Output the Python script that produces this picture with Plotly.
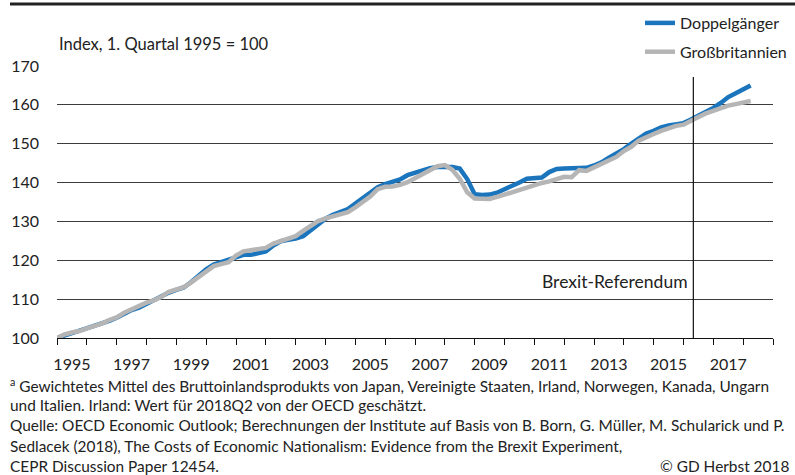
import plotly.graph_objects as go

# Quarterly data, 1995Q1 .. 2018Q2
years = [1995 + i / 4 for i in range(94)]

doppelgaenger = [
    100.0, 100.6, 101.2, 101.7,
    102.3, 102.9, 103.6, 104.4,
    105.2, 106.3, 107.2, 107.8,
    108.8, 109.5, 110.5, 111.7,
    112.4, 113.0, 114.4, 116.0,
    117.7, 118.9, 119.6, 120.2,
    120.7, 121.4, 121.4, 121.8,
    122.3, 123.8, 124.9, 125.3,
    125.6, 126.2, 127.6, 129.3,
    130.7, 131.7, 132.4, 133.2,
    134.6, 136.0, 137.4, 138.8,
    139.6, 140.1, 140.8, 141.9,
    142.6, 143.1, 143.7, 144.0,
    144.1, 144.0, 143.6, 140.9,
    137.0, 136.8, 136.9, 137.4,
    138.3, 139.0, 140.0, 141.0,
    141.1, 141.3, 142.7, 143.5,
    143.6, 143.6, 143.6, 143.8,
    144.4, 145.2, 146.4, 147.4,
    148.6, 150.0, 151.4, 152.6,
    153.3, 154.2, 154.7, 155.0,
    155.3, 156.2, 157.2, 158.0,
    159.2, 160.5, 162.0, 163.0,
    164.0, 165.0,
]

grossbritannien = [
    100.0, 100.9, 101.4, 101.8,
    102.5, 103.0, 103.7, 104.6,
    105.3, 106.5, 107.4, 108.0,
    109.1, 109.7, 110.6, 111.9,
    112.5, 113.1, 114.3, 115.8,
    117.3, 118.5, 119.0, 119.5,
    121.2, 122.3, 122.6, 122.9,
    123.2, 124.3, 125.0, 125.6,
    126.2, 127.6, 129.0, 130.1,
    130.8, 131.4, 131.8, 132.4,
    133.6, 135.0, 136.4, 138.3,
    138.9, 139.0, 139.4, 140.1,
    141.2, 142.3, 143.4, 144.2,
    144.5, 143.3, 141.0, 137.5,
    135.9, 135.8, 135.8, 136.3,
    136.9, 137.8, 138.3, 138.7,
    139.6, 139.9, 140.3, 141.0,
    141.5, 141.4, 143.2, 143.0,
    143.9, 144.6, 145.6, 146.6,
    148.1, 149.2, 150.8, 151.8,
    152.5, 153.3, 154.1, 154.6,
    154.9, 156.0, 156.9, 157.8,
    158.5, 159.2, 159.8, 160.2,
    160.6, 161.0,
]

label_years = list(range(1995, 2019, 2))
tick_text = [str(y) for y in label_years]
label_pos = [y + 0.5 for y in label_years]
boundary_years = list(range(1995, 2020))
y_ticks = [100, 110, 120, 130, 140, 150, 160, 170]

brexit_x = 2016.33
brexit_label = "Brexit-Referendum"
title_text = "Index, 1. Quartal 1995 = 100"
footnotes = [
    "<sup>a</sup> Gewichtetes Mittel des Bruttoinlandsprodukts von Japan, Vereinigte Staaten, Irland, Norwegen, Kanada, Ungarn",
    "und Italien. Irland: Wert für 2018Q2 von der OECD geschätzt.",
    "Quelle: OECD Economic Outlook; Berechnungen der Institute auf Basis von B. Born, G. Müller, M. Schularick und P.",
    "Sedlacek (2018), The Costs of Economic Nationalism: Evidence from the Brexit Experiment,",
    "CEPR Discussion Paper 12454.",
]
copyright_text = "© GD Herbst 2018"

FONT = "Lato"
TXT = "#222222"

fig = go.Figure()
fig.add_trace(go.Scatter(x=years, y=doppelgaenger, mode="lines", name="Doppelgänger",
                         legendgroup="a", line=dict(color="#1b75bc", width=4.5)))
fig.add_trace(go.Scatter(x=years, y=grossbritannien, mode="lines", name="Großbritannien",
                         legendgroup="b", line=dict(color="#b5b5b5", width=4.5)))

W, H = 795, 475
L, R, T, B = 57, 22, 66, 137
plot_w = W - L - R
plot_h = H - T - B

def px_to_paper_x(px):
    return (px - L) / plot_w

def px_to_paper_y(py):
    return (H - B - py) / plot_h

fig.update_layout(
    width=W, height=H,
    margin=dict(l=L, r=R, t=T, b=B, autoexpand=False),
    paper_bgcolor="white", plot_bgcolor="white",
    font=dict(family=FONT, size=16, color=TXT),
    showlegend=True,
    legend=dict(x=px_to_paper_x(640), y=px_to_paper_y(6),
                xanchor="left", yanchor="top", font=dict(size=16, color=TXT),
                bgcolor="rgba(0,0,0,0)", itemwidth=30, traceorder="grouped",
                tracegroupgap=5),
    xaxis=dict(range=[1995, 2019], showgrid=False, zeroline=False,
               showline=True, linecolor="#111111", linewidth=1.3,
               tickmode="array", tickvals=label_pos, ticktext=tick_text,
               ticks="outside", ticklen=0, tickcolor="rgba(0,0,0,0)",
               ticklabelstandoff=12,
               tickfont=dict(size=16, color=TXT),
               minor=dict(tickmode="array", tickvals=boundary_years, ticks="outside", ticklen=6,
                          tickcolor="#111111", tickwidth=1, showgrid=False)),
    yaxis=dict(range=[100, 170], tickmode="array", tickvals=y_ticks, showgrid=True,
               gridcolor="#3c3c3c", gridwidth=1, zeroline=False, showline=False,
               ticks="", ticklabelstandoff=17, tickfont=dict(size=16, color=TXT)),
)

shapes = [
    dict(type="line", xref="x", yref="y", x0=brexit_x, x1=brexit_x, y0=100, y1=167.2,
         line=dict(color="#111111", width=1.2)),
    dict(type="line", xref="paper", yref="paper", x0=px_to_paper_x(10), x1=px_to_paper_x(795),
         y0=px_to_paper_y(4), y1=px_to_paper_y(4), line=dict(color="#222222", width=3)),
]
fig.update_layout(shapes=shapes)

annotations = [
    dict(x=brexit_x, y=100 + (338 - 281) / 3.886, xref="x", yref="y", text=brexit_label,
         showarrow=False, xanchor="right", yanchor="middle", xshift=-3,
         font=dict(size=17.5, color=TXT)),
    dict(x=px_to_paper_x(57), y=px_to_paper_y(44), xref="paper", yref="paper", text=title_text,
         showarrow=False, xanchor="left", yanchor="middle", font=dict(size=16.5, color=TXT)),
]
foot_y = [385, 405, 425, 446, 466]
for txt, fy in zip(footnotes, foot_y):
    annotations.append(dict(x=px_to_paper_x(8), y=px_to_paper_y(fy), xref="paper", yref="paper",
                            text=txt, showarrow=False, xanchor="left", yanchor="middle",
                            font=dict(size=15.4, color=TXT)))
annotations.append(dict(x=px_to_paper_x(791), y=px_to_paper_y(466), xref="paper", yref="paper",
                        text=copyright_text, showarrow=False, xanchor="right", yanchor="middle",
                        font=dict(size=15.4, color=TXT)))
fig.update_layout(annotations=annotations)

fig.write_html("out.html", config={"displayModeBar": False},
               post_script="document.body.style.margin='0';")
